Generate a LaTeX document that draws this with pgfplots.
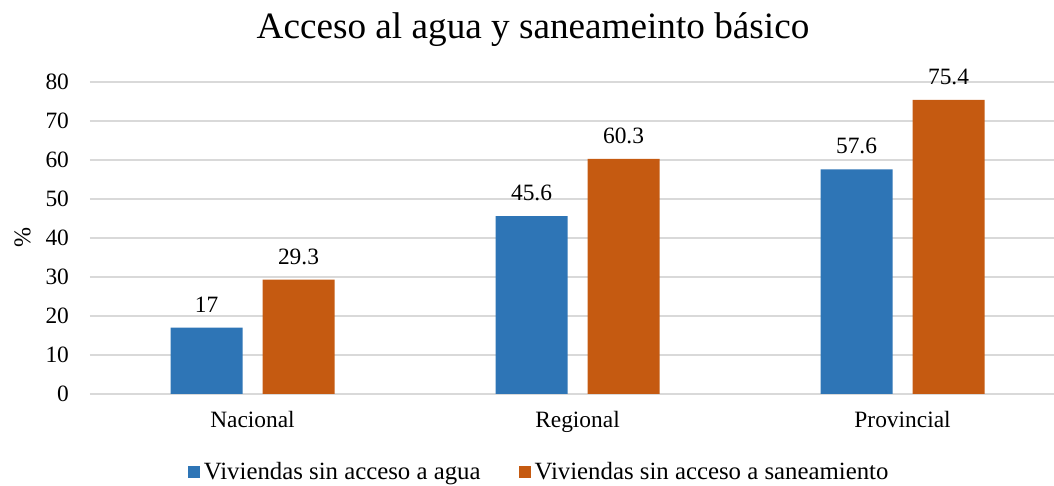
\documentclass[border=0pt]{standalone}
\usepackage{fontspec}
\setmainfont{Liberation Serif}
\usepackage{pgfplots}
\pgfplotsset{compat=1.18}
\definecolor{azul}{HTML}{2E75B6}
\definecolor{naranja}{HTML}{C55A11}
\definecolor{rejilla}{HTML}{D9D9D9}
\begin{document}
\begin{tikzpicture}
\begin{axis}[
    scale only axis,
    width=482pt, height=156pt,
    ybar=10pt, bar width=36pt,
    ymin=0, ymax=80, ytick={0,10,...,80},
    xmin=-0.5, xmax=2.466,
    xtick=data, xticklabels={Nacional,Regional,Provincial},
    axis line style={draw=none},
    major tick length=0pt,
    ymajorgrids, grid style={rejilla, line width=0.9pt},
    tick label style={font=\fontsize{11.7}{13}\selectfont},
    /pgf/number format/assume math mode=true,
    yticklabel style={xshift=-7pt},
    xticklabel style={yshift=-5pt},
    ylabel={\%}, ylabel style={font=\fontsize{12}{14}\selectfont, at={(axis description cs:-0.07,0.5)}, anchor=center},
    nodes near coords,
    every node near coord/.append style={font=\fontsize{11.7}{13}\selectfont, text=black, yshift=4pt},
    legend columns=2,
    legend style={draw=none, at={(0.467,-0.25)}, anchor=center, font=\fontsize{12.4}{14}\selectfont,
        /tikz/every even column/.append style={column sep=17pt}},
    legend image code/.code={\fill[#1] (0pt,-3pt) rectangle (6pt,3pt);},
]
\addplot[fill=azul, draw=none] coordinates {(0,17) (1,45.6) (2,57.6)};
\addplot[fill=naranja, draw=none] coordinates {(0,29.3) (1,60.3) (2,75.4)};
\legend{Viviendas sin acceso a agua, Viviendas sin acceso a saneamiento}
\end{axis}
\node at (221.5pt,182pt) {\fontsize{18.6}{21}\selectfont Acceso al agua y saneameinto básico};
\pgfresetboundingbox
\path[use as bounding box] (-45pt,-46pt) rectangle (482pt,197pt);
\end{tikzpicture}
\end{document}
